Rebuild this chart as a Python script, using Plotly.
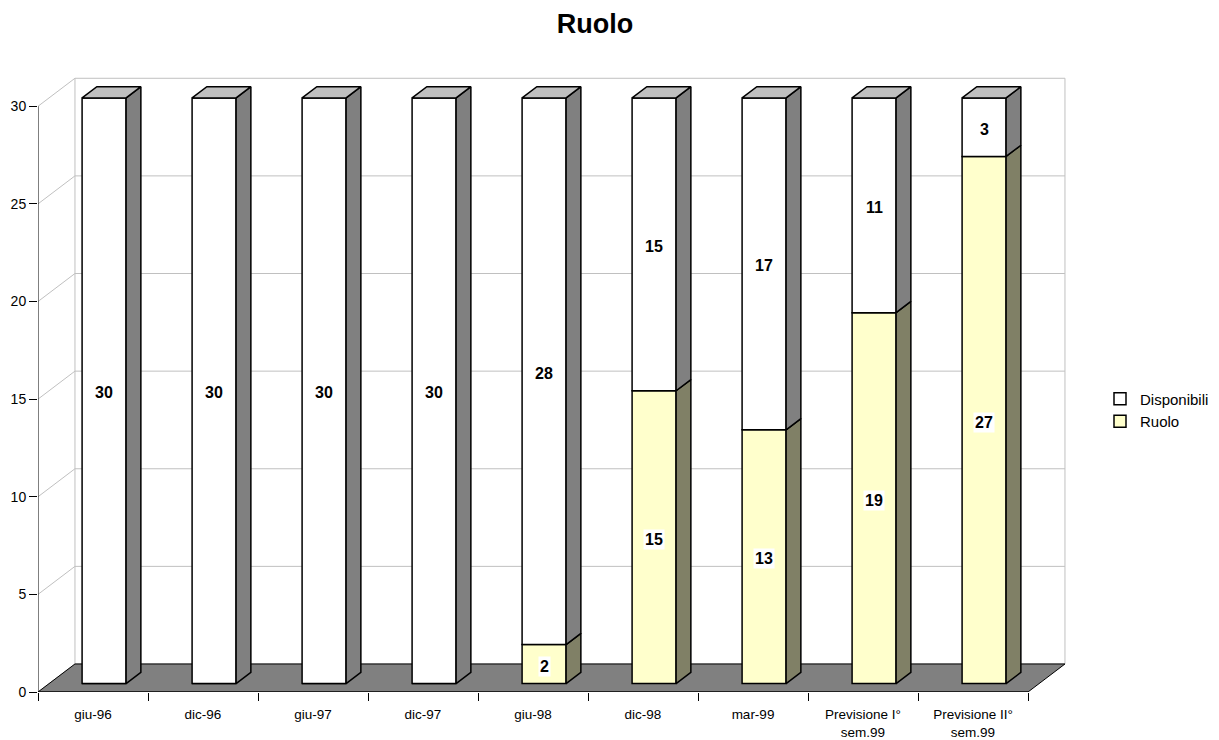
import plotly.graph_objects as go

# ---- data ----
categories = ["giu-96", "dic-96", "giu-97", "dic-97", "giu-98", "dic-98", "mar-99",
              "Previsione I°<br>sem.99", "Previsione II°<br>sem.99"]
ruolo = [0, 0, 0, 0, 2, 15, 13, 19, 27]
disponibili = [30, 30, 30, 30, 28, 15, 17, 11, 3]
y_ticks = [0, 5, 10, 15, 20, 25, 30]

# ---- 3D projection parameters (oblique) ----
DX = 0.336   # depth offset in category units
DY = 1.435   # depth offset in value units
D0, D1 = 0.3, 0.7  # bar front/back depth
W = 0.4      # bar width (category units)
N = len(categories)
YMAX = 30
FONT = "Arial, Liberation Sans, sans-serif"

series = [
    dict(name="Ruolo", vals=ruolo, front="#ffffcc", side="#808066"),
    dict(name="Disponibili", vals=disponibili, front="#ffffff", side="#808080"),
]
TOP_COLOR = "#c0c0c0"

fig = go.Figure()

# bases for stacking
bases = [[0] * N, list(ruolo)]

# front faces as bars
for s, base in zip(series, bases):
    fig.add_trace(go.Bar(
        name=s["name"],
        x=[i + 0.5 + D0 * DX for i in range(N)],
        y=s["vals"],
        base=[b + D0 * DY for b in base],
        width=W,
        marker=dict(color=s["front"], line=dict(color="black", width=1.5)),
        hoverinfo="skip",
    ))

# side faces
for s, base in zip(series, bases):
    for i in range(N):
        v = s["vals"][i]
        if v == 0:
            continue
        v0, v1 = base[i], base[i] + v
        cr = i + 0.5 + W / 2
        xs = [cr + D0 * DX, cr + D1 * DX, cr + D1 * DX, cr + D0 * DX, cr + D0 * DX]
        ys = [v0 + D0 * DY, v0 + D1 * DY, v1 + D1 * DY, v1 + D0 * DY, v0 + D0 * DY]
        fig.add_trace(go.Scatter(x=xs, y=ys, mode="lines", fill="toself",
                                 fillcolor=s["side"], line=dict(color="black", width=1.5),
                                 showlegend=False, hoverinfo="skip"))

# top faces
for i in range(N):
    T = ruolo[i] + disponibili[i]
    cl = i + 0.5 - W / 2
    cr = i + 0.5 + W / 2
    xs = [cl + D0 * DX, cl + D1 * DX, cr + D1 * DX, cr + D0 * DX, cl + D0 * DX]
    ys = [T + D0 * DY, T + D1 * DY, T + D1 * DY, T + D0 * DY, T + D0 * DY]
    fig.add_trace(go.Scatter(x=xs, y=ys, mode="lines", fill="toself",
                             fillcolor=TOP_COLOR, line=dict(color="black", width=1.5),
                             showlegend=False, hoverinfo="skip"))

# data labels
annotations = []
for s, base in zip(series, bases):
    for i in range(N):
        v = s["vals"][i]
        if v == 0:
            continue
        annotations.append(dict(
            x=i + 0.5 + D0 * DX, y=base[i] + v / 2 + D0 * DY,
            text=str(v), showarrow=False, yshift=-2,
            font=dict(family=FONT, size=16, color="black", weight="bold"),
            bgcolor="white", borderpad=1,
        ))

# walls, gridlines, floor, axes lines (shapes)
shapes = []
GRID = "#c0c0c0"
for t in y_ticks:
    shapes.append(dict(type="line", x0=0, y0=t, x1=DX, y1=t + DY, layer="below",
                       line=dict(color=GRID, width=1)))
    shapes.append(dict(type="line", x0=DX, y0=t + DY, x1=N + DX, y1=t + DY, layer="below",
                       line=dict(color=GRID, width=1)))
shapes.append(dict(type="line", x0=DX, y0=DY, x1=DX, y1=YMAX + DY, layer="below",
                   line=dict(color=GRID, width=1)))
shapes.append(dict(type="line", x0=N + DX, y0=DY, x1=N + DX, y1=YMAX + DY, layer="below",
                   line=dict(color=GRID, width=1)))
floor_path = f"M 0 0 L {N} 0 L {N + DX} {DY} L {DX} {DY} Z"
shapes.append(dict(type="path", path=floor_path, fillcolor="#808080", layer="below",
                   line=dict(color="black", width=1)))
shapes.append(dict(type="line", x0=0, y0=0, x1=0, y1=YMAX, layer="above",
                   line=dict(color="black", width=1)))
shapes.append(dict(type="line", x0=0, y0=0, x1=N, y1=0, layer="above",
                   line=dict(color="black", width=1)))

fig.update_layout(
    width=1219, height=740,
    margin=dict(l=38, r=147, t=77, b=48, autoexpand=False),
    paper_bgcolor="white", plot_bgcolor="white",
    barmode="overlay",
    title=dict(text="Ruolo", x=595 / 1219, xref="container", xanchor="center",
               y=1 - 24 / 740, yref="container", yanchor="middle",
               font=dict(family=FONT, size=27, color="black", weight="bold")),
    font=dict(family=FONT, color="black"),
    xaxis=dict(range=[0, 9.4], tickvals=[i + 0.5 for i in range(N)], ticktext=categories,
               ticks="outside", ticklen=10, tickcolor="rgba(0,0,0,0)", automargin=False,
               showgrid=False, zeroline=False, showline=False,
               tickfont=dict(family=FONT, size=13.5, color="black"),
               minor=dict(tickvals=list(range(N + 1)), ticks="outside", ticklen=8,
                          tickcolor="black", tickwidth=1, showgrid=False)),
    yaxis=dict(range=[0, 31.5], tickvals=y_ticks, ticks="outside", ticklen=8,
               tickcolor="black", showgrid=False, zeroline=False, showline=False,
               automargin=False,
               tickfont=dict(family=FONT, size=14, color="black")),
    legend=dict(x=(1100 - 38) / 1034, xanchor="left", y=(692 - 410) / 615, yanchor="middle",
                traceorder="reversed", font=dict(family=FONT, size=15, color="black"),
                bgcolor="rgba(0,0,0,0)"),
    shapes=shapes,
    annotations=annotations,
    hovermode=False,
)

fig.write_html("out.html")
